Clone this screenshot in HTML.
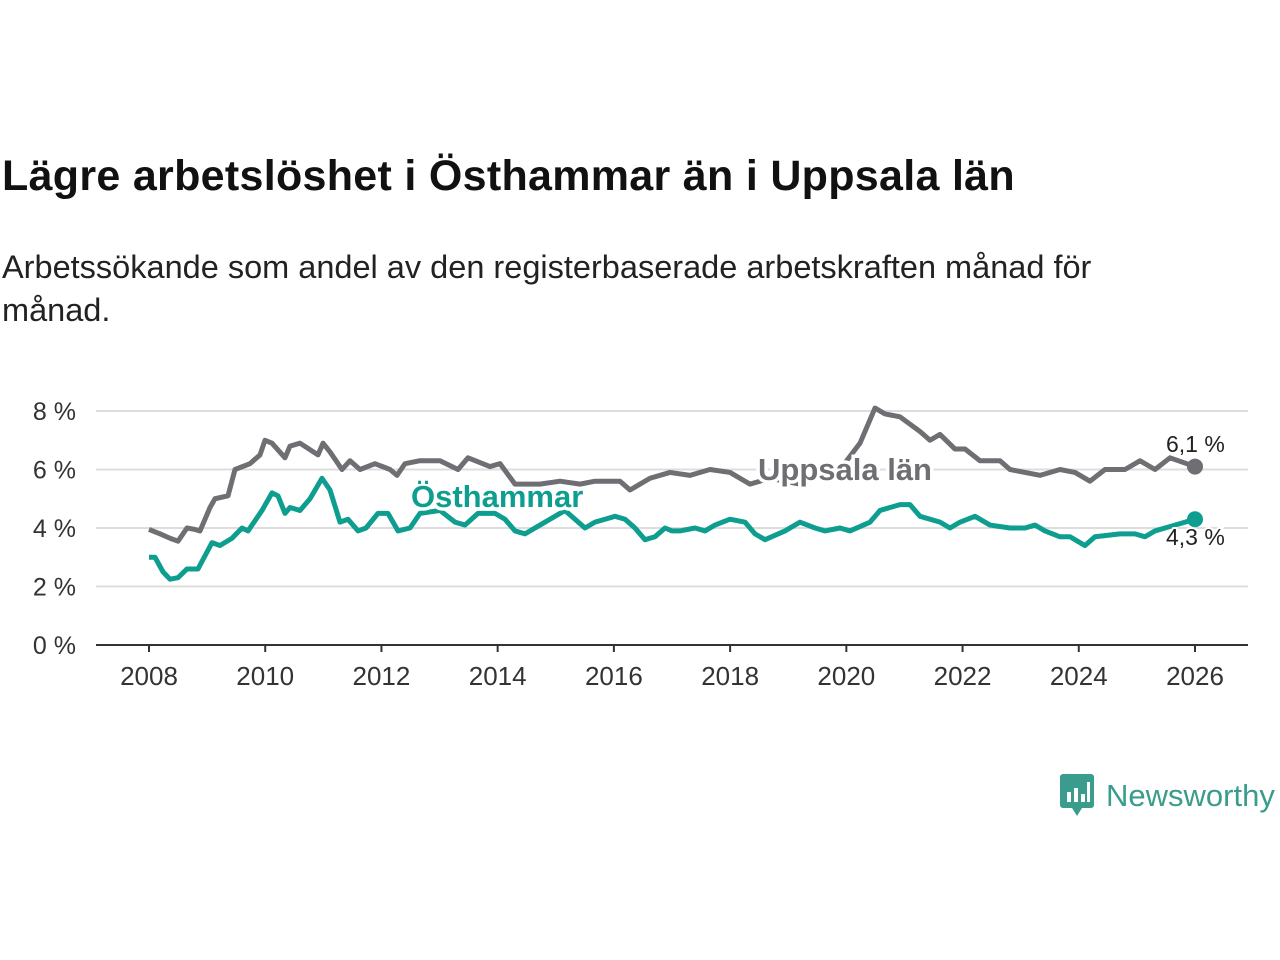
<!DOCTYPE html>
<html><head><meta charset="utf-8"><style>
body{margin:0;background:#fff;width:1280px;height:960px;overflow:hidden;font-family:"Liberation Sans",sans-serif}
h1{position:absolute;left:2px;top:152px;margin:0;font-size:43px;font-weight:bold;color:#111;letter-spacing:0.3px}
.sub{position:absolute;left:2px;top:246px;margin:0;font-size:32.5px;line-height:43px;color:#222;width:1200px}
</style></head><body>
<h1>Lägre arbetslöshet i Östhammar än i Uppsala län</h1>
<p class="sub">Arbetssökande som andel av den registerbaserade arbetskraften månad för månad.</p>
<svg id="chart" width="1280" height="960" style="position:absolute;left:0;top:0"></svg>
<div style="position:absolute;left:1060px;top:774px;display:flex;align-items:center">
<svg width="36" height="44"><rect x="0" y="0" width="34" height="34" rx="3" fill="#3a9c8c"/><path d="M12 34 L17 42 L22 34Z" fill="#3a9c8c"/><rect x="7" y="18" width="4" height="10" fill="#fff"/><rect x="14" y="14" width="4" height="14" fill="#fff"/><rect x="21" y="20" width="4" height="8" fill="#fff"/><rect x="27" y="8" width="3" height="20" fill="#fff"/></svg>
<span style="font-size:31px;color:#3a9c8c;margin-left:10px">Newsworthy</span></div>
<script>
const yTicks=[0,2,4,6,8];
const xTicks=[2008,2010,2012,2014,2016,2018,2020,2022,2024,2026];
const uppX=[149,160,170,178,187,195,200,210,215,228,235,250,260,265,272,285,290,300,318,323,330,342,350,360,375,390,397,405,420,440,458,468,490,500,515,540,560,580,595,620,630,650,670,690,710,730,750,770,800,840,860,875,885,900,920,930,940,955,965,980,1000,1010,1040,1060,1075,1090,1105,1125,1140,1155,1170,1195];
const uppV=[3.95,3.8,3.65,3.55,4.0,3.95,3.9,4.7,5.0,5.1,6.0,6.2,6.5,7.0,6.9,6.4,6.8,6.9,6.5,6.9,6.6,6.0,6.3,6.0,6.2,6.0,5.8,6.2,6.3,6.3,6.0,6.4,6.1,6.2,5.5,5.5,5.6,5.5,5.6,5.6,5.3,5.7,5.9,5.8,6.0,5.9,5.5,5.7,5.5,6.0,6.9,8.1,7.9,7.8,7.3,7.0,7.2,6.7,6.7,6.3,6.3,6.0,5.8,6.0,5.9,5.6,6.0,6.0,6.3,6.0,6.4,6.1];
const ostX=[149,155,163,170,178,187,198,212,220,232,242,248,262,272,278,285,290,300,310,322,330,340,348,358,366,378,388,398,410,420,440,455,465,478,495,505,515,525,540,555,565,575,585,595,605,615,625,635,645,655,665,672,680,695,705,715,730,745,755,765,785,800,815,825,840,850,870,880,900,910,920,940,950,960,975,990,1010,1025,1035,1045,1060,1070,1085,1095,1120,1135,1145,1155,1165,1195];
const ostV=[3.0,3.0,2.5,2.25,2.3,2.6,2.6,3.5,3.4,3.65,4.0,3.9,4.6,5.2,5.1,4.5,4.7,4.6,5.0,5.7,5.3,4.2,4.3,3.9,4.0,4.5,4.5,3.9,4.0,4.5,4.6,4.2,4.1,4.5,4.5,4.3,3.9,3.8,4.1,4.4,4.6,4.3,4.0,4.2,4.3,4.4,4.3,4.0,3.6,3.7,4.0,3.9,3.9,4.0,3.9,4.1,4.3,4.2,3.8,3.6,3.9,4.2,4.0,3.9,4.0,3.9,4.2,4.6,4.8,4.8,4.4,4.2,4.0,4.2,4.4,4.1,4.0,4.0,4.1,3.9,3.7,3.7,3.4,3.7,3.8,3.8,3.7,3.9,4.0,4.3];
const svg=document.getElementById('chart');const NS='http://www.w3.org/2000/svg';
const yS=v=>645-v*29.25; const yrS=y=>149+(y-2008)*58.111;
function mk(t,a,p){const e=document.createElementNS(NS,t);for(const k in a)e.setAttribute(k,a[k]);(p||svg).appendChild(e);return e;}
yTicks.forEach(v=>{
 if(v>0){const g=mk('line',{x1:96,x2:1248,y1:yS(v),y2:yS(v),stroke:'#ddd','stroke-width':2});
 
 }
 const t=mk('text',{x:76,y:yS(v)+9,'text-anchor':'end','font-size':25,fill:'#333','font-family':'Liberation Sans'});t.textContent=v+' %';
 
 
});
const ax=mk('line',{x1:96,x2:1248,y1:645,y2:645,stroke:'#333','stroke-width':2});


xTicks.forEach(y=>{const x=yrS(y);mk('line',{x1:x,x2:x,y1:645,y2:652,stroke:'#333','stroke-width':2});
 const t=mk('text',{x:x,y:685,'text-anchor':'middle','font-size':26,fill:'#333','font-family':'Liberation Sans'});t.textContent=y;
 
 });
function line(xs,vs,c,name){const d=xs.map((x,i)=>(i?'L':'M')+x+' '+yS(vs[i])).join('');
 const p=mk('path',{d:d,fill:'none',stroke:c,'stroke-width':5,'stroke-linejoin':'round'});
 
 
 const n=xs.length-1;const c2=mk('circle',{cx:xs[n],cy:yS(vs[n]),r:8,fill:c});
 
 }
line(uppX,uppV,'#6e6e73','uppsala-line');
line(ostX,ostV,'#0d9e8f','osthammar-line');
function lab(x,y,s,c,sz,w,name,halo){const t=mk('text',{x:x,y:y,'font-size':sz,fill:c,'font-weight':w,'font-family':'Liberation Sans',stroke:'#fff','stroke-width':halo,'paint-order':'stroke'});t.textContent=s;
 
 }
lab(758,480,'Uppsala län','#6e6e73',31,'bold','uppsala-label',7);
lab(411,507,'Östhammar','#0d9e8f',31,'bold','osthammar-label',7);
lab(1166,452,'6,1 %','#222',23,'normal','uppsala-end-value',4);
lab(1166,545,'4,3 %','#222',23,'normal','osthammar-end-value',4);
</script>
</body></html>
